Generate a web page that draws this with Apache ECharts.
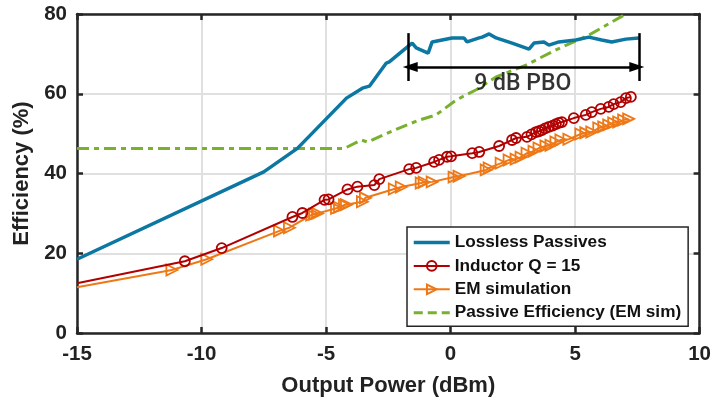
<!DOCTYPE html>
<html>
<head>
<meta charset="utf-8">
<script src="https://cdn.jsdelivr.net/npm/echarts@6/dist/echarts.min.js"></script>
<style>
  html, body { margin: 0; padding: 0; background: #fff; }
  #chart { width: 714px; height: 404px; }
</style>
</head>
<body>
<div id="chart"></div>
<script>
// values: [output power dBm, efficiency %]
const lossless = [
  [-15, 18.5], [-7.5, 40.4], [-6.15, 46.3], [-4.18, 58.9], [-3.54, 61.4], [-3.26, 61.9],
  [-2.58, 67.7], [-2.46, 68.0], [-1.78, 71.5], [-1.54, 72.7], [-1.38, 71.5], [-0.9, 70.2],
  [-0.74, 73.0], [0.06, 74.0], [0.54, 74.0], [0.66, 73.0], [1.15, 74.0], [1.27, 74.2],
  [1.55, 75.0], [1.83, 74.0], [2.47, 72.7], [3.15, 71.2], [3.35, 72.7], [3.75, 73.0],
  [3.95, 72.2], [4.35, 73.0], [5.03, 73.5], [5.55, 74.2], [6.07, 73.5], [6.47, 73.0],
  [7.04, 73.7], [7.56, 74.0]
];
const inductorQ15 = [
  [-15, 12.5], [-10.67, 18.0], [-9.19, 21.3], [-6.35, 29.1], [-5.95, 30.1], [-5.06, 33.4],
  [-4.9, 33.5], [-4.14, 36.0], [-3.74, 36.7], [-3.06, 37.1], [-2.86, 38.6], [-1.66, 41.1],
  [-1.38, 41.4], [-0.66, 42.9], [-0.46, 43.4], [-0.14, 44.2], [0.02, 44.3], [0.87, 45.1],
  [1.15, 45.4], [1.95, 46.9], [2.47, 48.4], [2.63, 48.9], [3.07, 49.2], [3.25, 49.8],
  [3.43, 50.4], [3.55, 50.6], [3.67, 50.9], [3.8, 51.3], [3.95, 51.7], [4.1, 52.0],
  [4.23, 52.4], [4.35, 52.7], [4.47, 52.9], [4.95, 53.9], [5.43, 54.7], [5.67, 55.4],
  [6.03, 56.2], [6.35, 56.7], [6.55, 57.4], [6.83, 57.9], [7.04, 58.9], [7.24, 59.2]
];
const emSimulation = [
  [-15, 11.5], [-11.19, 15.8], [-9.79, 18.5], [-6.87, 25.6], [-6.47, 26.4], [-5.58, 29.6],
  [-5.46, 29.8], [-5.34, 30.0], [-4.58, 31.3], [-4.46, 31.5], [-4.26, 32.1], [-4.18, 32.2],
  [-3.54, 32.9], [-3.42, 33.9], [-2.26, 36.1], [-1.98, 36.6], [-1.18, 37.6], [-1.06, 37.8],
  [-0.74, 37.9], [0.14, 39.1], [0.34, 39.3], [1.43, 40.9], [1.55, 41.4], [2.03, 42.6],
  [2.35, 43.4], [2.63, 43.6], [2.83, 44.1], [3.07, 45.1], [3.35, 45.6], [3.55, 46.4],
  [3.83, 46.9], [4.03, 47.1], [4.23, 47.9], [4.43, 48.4], [4.75, 48.6], [5.23, 49.9],
  [5.43, 50.2], [5.67, 50.4], [5.95, 51.4], [6.15, 51.7], [6.35, 52.2], [6.55, 52.7],
  [6.75, 52.9], [6.95, 53.4], [7.15, 53.7]
];
const passiveEff = [
  [-15, 46.3], [-4.26, 46.3], [-3.58, 48.4], [-3.34, 47.9], [-2.06, 51.4], [-1.26, 53.4],
  [-0.58, 54.7], [0.22, 58.4], [1.03, 61.0], [1.83, 64.2], [3.03, 67.2], [4.23, 71.0],
  [5.55, 74.7], [7.04, 80.0]
];
const seriesNames = ['Lossless Passives', 'Inductor Q = 15', 'EM simulation', 'Passive Efficiency (EM sim)'];

// 9 dB PBO annotation
const pboLeftBar = [[-1.7, 75.2], [-1.7, 63.2]];
const pboRightBar = [[7.56, 75.2], [7.56, 63.2]];
const pboArrow = [[-1.62, 66.7], [7.48, 66.7]];
const pboLabel = [2.9, 62.4];
const pboText = '9 dB PBO';

const xTicks = { min: -15, max: 10, step: 5 };
const yTicks = { min: 0, max: 80, step: 20 };

const FONT = '"Liberation Sans", Arial, sans-serif';
const AXIS = '#262626';
const GRID = '#e0e0e0';
const BLUE = '#0b77a2', RED = '#b20000', ORANGE = '#ef7816', GREEN = '#79b02e';

function firstNoMarker(points) {
  // the first point sits on the left frame; the original shows no marker there
  return points.map(function (p, i) {
    return i === 0 ? { value: p, symbol: 'none' } : p;
  });
}

function frameAxis(base) {
  return Object.assign({
    type: 'value',
    axisLine: { show: true, onZero: false, lineStyle: { color: AXIS, width: 2.5 } },
    axisTick: { show: true, inside: true, length: 6, lineStyle: { color: AXIS, width: 2.5 } },
    axisLabel: { show: false },
    splitLine: { show: false }
  }, base);
}

const chart = echarts.init(document.getElementById('chart'));

const options = {
  animation: false,
  backgroundColor: '#fff',
  grid: { left: 77, right: 13, top: 14, bottom: 71 },
  legend: {
    data: [
      { name: seriesNames[0], itemStyle: { opacity: 0 }, lineStyle: { width: 3.5, color: BLUE } },
      { name: seriesNames[1], lineStyle: { width: 2, color: RED } },
      { name: seriesNames[2], lineStyle: { width: 2, color: ORANGE } },
      { name: seriesNames[3], itemStyle: { opacity: 0 }, lineStyle: { width: 3, color: GREEN, type: [9, 5] } }
    ],
    orient: 'vertical',
    left: 407,
    top: 227,
    padding: [7, 7, 5, 5],
    itemWidth: 36,
    itemHeight: 12,
    itemGap: 6.4,
    backgroundColor: '#fff',
    borderColor: AXIS,
    borderWidth: 1.5,
    borderRadius: 0,
    selectedMode: false,
    textStyle: { fontFamily: FONT, fontWeight: 'bold', fontSize: 17.2, color: '#111', lineHeight: 17 }
  },
  xAxis: [
    frameAxis({
      position: 'bottom',
      min: xTicks.min, max: xTicks.max, interval: xTicks.step,
      name: 'Output Power (dBm)',
      nameLocation: 'middle',
      nameGap: 42,
      nameTextStyle: { fontFamily: FONT, fontWeight: 'bold', fontSize: 22, color: '#222' },
      axisLabel: { show: true, margin: 11, fontFamily: FONT, fontWeight: 'bold', fontSize: 20.5, color: '#222' },
      splitLine: { show: true, lineStyle: { color: GRID, width: 2 } }
    }),
    frameAxis({ position: 'top', min: xTicks.min, max: xTicks.max, interval: xTicks.step })
  ],
  yAxis: [
    frameAxis({
      position: 'left',
      min: yTicks.min, max: yTicks.max, interval: yTicks.step,
      name: 'Efficiency (%)',
      nameLocation: 'middle',
      nameGap: 44,
      nameTextStyle: { fontFamily: FONT, fontWeight: 'bold', fontSize: 22, color: '#222' },
      axisLabel: { show: true, margin: 10, fontFamily: FONT, fontWeight: 'bold', fontSize: 20.5, color: '#222' },
      splitLine: { show: true, lineStyle: { color: GRID, width: 2 } }
    }),
    frameAxis({ position: 'right', min: yTicks.min, max: yTicks.max, interval: yTicks.step })
  ],
  series: [
    {
      name: seriesNames[0],
      type: 'line',
      data: lossless,
      symbol: 'none',
      z: 4,
      lineStyle: { color: BLUE, width: 3.5 },
      itemStyle: { color: BLUE }
    },
    {
      name: seriesNames[1],
      type: 'line',
      data: firstNoMarker(inductorQ15),
      symbol: 'circle',
      symbolSize: 10,
      z: 3,
      lineStyle: { color: RED, width: 2 },
      itemStyle: { color: 'rgba(0,0,0,0)', borderColor: RED, borderWidth: 1.8 }
    },
    {
      name: seriesNames[2],
      type: 'line',
      data: firstNoMarker(emSimulation),
      symbol: 'triangle',
      symbolRotate: -90,
      symbolSize: 11,
      z: 2,
      lineStyle: { color: ORANGE, width: 2 },
      itemStyle: { color: 'rgba(0,0,0,0)', borderColor: ORANGE, borderWidth: 1.8 }
    },
    {
      name: seriesNames[3],
      type: 'line',
      data: passiveEff,
      symbol: 'none',
      z: 3,
      lineStyle: { color: GREEN, width: 3, type: [12, 5, 5, 5] },
      itemStyle: { color: GREEN }
    },
    {
      name: 'pbo',
      type: 'scatter',
      data: [pboLabel],
      symbolSize: 0,
      silent: true,
      z: 6,
      label: {
        show: true,
        position: 'inside',
        formatter: pboText,
        fontFamily: 'Roboto, "Liberation Sans", sans-serif',
        fontWeight: 500,
        fontSize: 23,
        color: '#000'
      },
      markLine: {
        silent: true,
        animation: false,
        symbol: 'none',
        label: { show: false },
        lineStyle: { color: '#000', width: 2.5, type: 'solid' },
        data: [
          [{ coord: pboLeftBar[0] }, { coord: pboLeftBar[1] }],
          [{ coord: pboRightBar[0] }, { coord: pboRightBar[1] }],
          [
            { coord: pboArrow[0], symbol: 'triangle', symbolSize: [10, 15] },
            { coord: pboArrow[1], symbol: 'triangle', symbolSize: [10, 15] }
          ]
        ]
      }
    }
  ]
};

chart.setOption(options);
</script>
</body>
</html>
